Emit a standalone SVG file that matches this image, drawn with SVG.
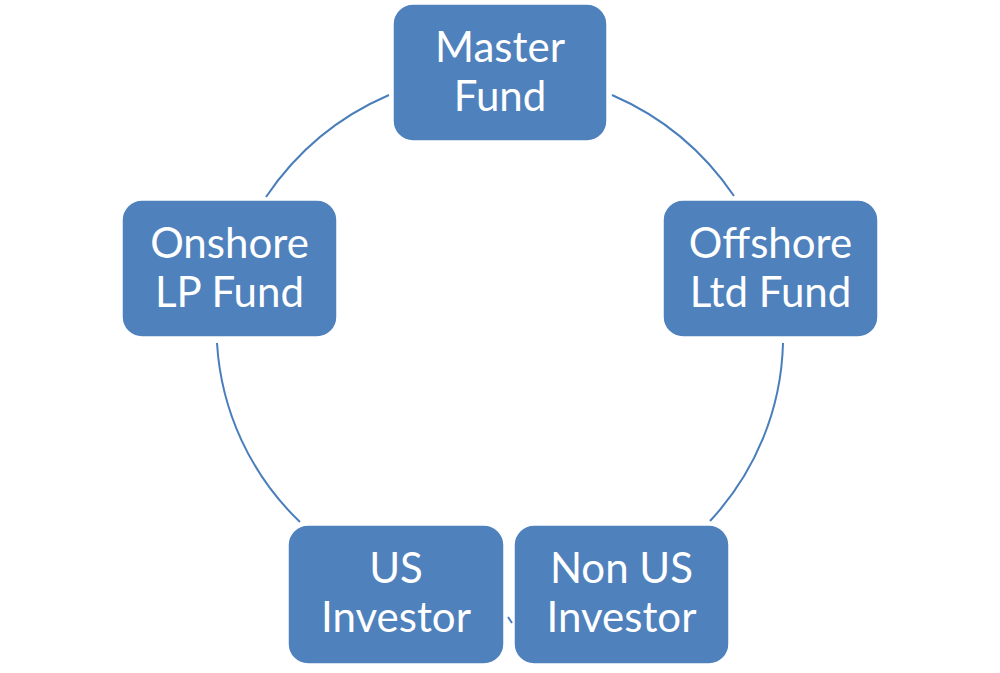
<svg xmlns="http://www.w3.org/2000/svg" width="1000" height="673" viewBox="0 0 1000 673">
<style>
.box{fill:#4F81BD;stroke:#FFFFFF;stroke-width:1.5}
.lbl{font-family:Lato,"Liberation Sans",sans-serif;font-size:42px;fill:#FFFFFF;text-anchor:middle}
.arc{fill:none;stroke:#4A7EBB;stroke-width:2}
</style>
<rect width="1000" height="673" fill="#FFFFFF"/>
<g id="connectors">
<path class="arc" d="M266,197 A283,283 0 0,1 389,95"/>
<path class="arc" d="M612,95 A283,283 0 0,1 734,196"/>
<path class="arc" d="M783,343 A270,270 0 0,1 710,521"/>
<path class="arc" d="M300,522 A270,270 0 0,1 217,343"/>
<path class="arc" d="M508,617 L512,623"/>
</g>
<g id="master">
<rect class="box" x="393" y="4" width="214" height="137" rx="20"/>
<text class="lbl" x="500" y="62">Master</text>
<text class="lbl" x="500" y="111">Fund</text>
</g>
<g id="offshore">
<rect class="box" x="663" y="200" width="215" height="137" rx="20"/>
<text class="lbl" x="770.5" y="258">Offshore</text>
<text class="lbl" x="770.5" y="307">Ltd Fund</text>
</g>
<g id="onshore">
<rect class="box" x="122" y="200" width="215" height="137" rx="20"/>
<text class="lbl" x="229.5" y="258">Onshore</text>
<text class="lbl" x="229.5" y="307">LP Fund</text>
</g>
<g id="us">
<rect class="box" x="288" y="525" width="216" height="139" rx="20"/>
<text class="lbl" x="396" y="583">US</text>
<text class="lbl" x="396" y="632">Investor</text>
</g>
<g id="nonus">
<rect class="box" x="514" y="525" width="215" height="139" rx="20"/>
<text class="lbl" x="621.5" y="583">Non US</text>
<text class="lbl" x="621.5" y="632">Investor</text>
</g>
</svg>
